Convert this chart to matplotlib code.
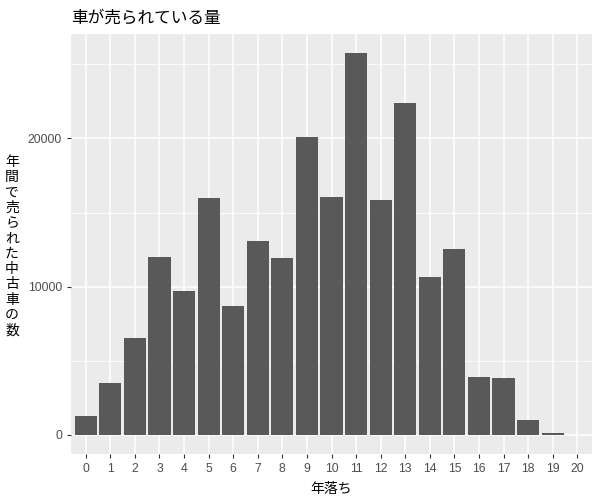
import matplotlib.pyplot as plt
import numpy as np
from matplotlib.ticker import MultipleLocator

# 年落ち (years) and number of used cars sold per year
years = [str(i) for i in range(21)]
counts = [1297, 3515, 6540, 12000, 9700, 16015, 8690, 13060, 11915, 20110,
          16080, 25760, 15880, 22400, 10640, 12520, 3940, 3870, 1030, 160, 8]

title = '車が売られている量'
xlabel = '年落ち'
ylabel = '年間で売られた中古車の数'

jp = ['Noto Sans CJK JP', 'DejaVu Sans']
num = ['Liberation Sans', 'DejaVu Sans']

fig = plt.figure(figsize=(6, 5), dpi=100)
ax = fig.add_axes([71 / 600, 1 - 454 / 500, (592 - 71) / 600, (454 - 34) / 500])
ax.set_facecolor('#EBEBEB')

x = np.arange(len(years))
ax.bar(x, counts, width=0.9, color='#595959', zorder=3)

ymax = max(counts)
ax.set_ylim(-0.05 * ymax, 1.05 * ymax)
ax.set_xlim(-0.6, len(years) - 0.4)

ax.yaxis.set_major_locator(MultipleLocator(10000))
ax.yaxis.set_minor_locator(MultipleLocator(5000))
ax.set_xticks(x)
ax.set_xticklabels(years)

ax.grid(which='major', color='white', linewidth=1.1, zorder=0)
ax.grid(which='minor', axis='y', color='white', linewidth=0.55, zorder=0)
ax.set_axisbelow(True)

for s in ax.spines.values():
    s.set_visible(False)

ax.tick_params(which='major', length=3, width=0.8, color='#333333',
               labelcolor='#4D4D4D', labelsize=8.8, pad=3.5)
ax.tick_params(which='minor', length=0)
for lab in ax.get_xticklabels() + ax.get_yticklabels():
    lab.set_family(num)

ax.set_xlabel(xlabel, family=jp, fontsize=10, labelpad=5)
fig.text(12 / 600, 1 - 246 / 500, '\n'.join(ylabel), family=jp, fontsize=10,
         ha='center', va='center', linespacing=1.12)
fig.text(71 / 600, 1 - 18 / 500, title, family=jp, fontsize=12,
         ha='left', va='center')

fig.savefig('out.png', dpi=100)
